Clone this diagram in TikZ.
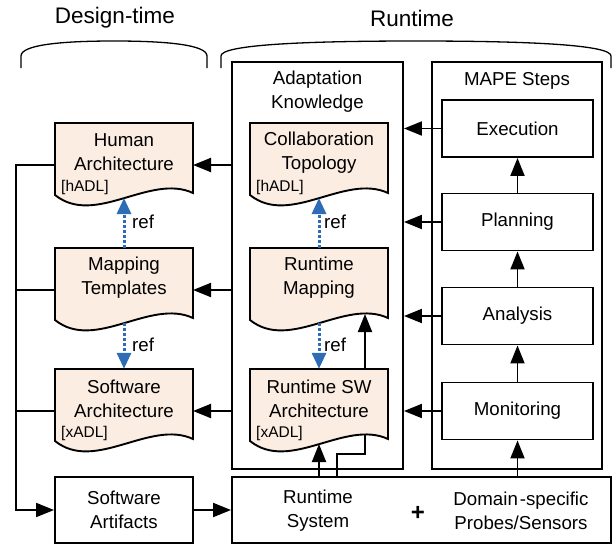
\documentclass[tikz,border=0pt]{standalone}
\usepackage{fontspec}
\setmainfont{Liberation Sans}
\usetikzlibrary{arrows.meta,calc}
\pgfdeclarelayer{bg}
\pgfsetlayers{bg,main}
\definecolor{docfill}{RGB}{252,237,226}
\definecolor{refblue}{RGB}{46,108,182}
\tikzset{
  every node/.style={font=\fontsize{18.7}{24}\selectfont},
  box/.style={draw, line width=1.9pt, inner sep=0pt, align=center},
  ln/.style={line width=1.9pt, line join=miter},
  arr/.style={ln, -{Triangle[length=18pt,width=14pt]}},
  refarr/.style={line width=3pt, refblue, dash pattern=on 3pt off 2pt, -{Triangle[length=16pt,width=14pt]}},
  docpath/.style={draw, fill=docfill, line width=1.9pt, line join=miter},
  docbox/.style={inner sep=0pt, minimum width=138pt, minimum height=71pt},
  doctext/.style={align=center, inner sep=0pt},
  tag/.style={font=\fontsize{15.5}{18}\selectfont, anchor=base west, inner sep=0pt},
  head/.style={font=\fontsize{22.5}{26}\selectfont},
  brace/.style={line width=1.3pt},
}
\newcommand\docnode[4]{%
  \path[docpath] (#2,#3+72) -- (#2,#3) -- (#2+138,#3) -- (#2+138,#3+70)
    .. controls (#2+95,#3+50) and (#2+40,#3+104) .. (#2,#3+72) -- cycle;
  \node[docbox] (#1) at (#2+69,#3+35.5) {};
  \node[doctext] (#1-t) at (#2+69,#3+29.5) {#4};
  \coordinate (#1-w) at (#2+69,#3+75);
  \coordinate (#1-r) at (#2+115,#3+66);
  \coordinate (#1-l) at (#2,#3+42);
  \coordinate (#1-e) at (#2+138,#3+42);
}
\begin{document}
\begin{tikzpicture}[x=1pt,y=-1pt]
\useasboundingbox (0,0) rectangle (613,549);

% headings and braces
\node[head] (hdt) at (115,18) {Design-time};
\node[head] (hrt) at (412,18) {Runtime};
\draw[brace] (21,68) -- (21,56) .. controls (21,45) and (60,41) .. (114,41)
  .. controls (168,41) and (207,45) .. (207,56) -- (207,68);
\draw[brace] (221,68) -- (221,56) .. controls (221,45) and (300,41) .. (416,41)
  .. controls (532,41) and (611,45) .. (611,56) -- (611,68);

% containers
\node[box, minimum width=171pt, minimum height=407pt] (ak) at (317.5,265.5) {};
\node (akt) at (317.5,92) [align=center] {Adaptation\\Knowledge};
\node[box, minimum width=170pt, minimum height=407pt] (mape) at (517,265.5) {};
\node (mapet) at (517,81) {MAPE Steps};

% MAPE steps
\node[box, minimum width=151pt, minimum height=57pt] (ex) at (517.5,128.5) {Execution};
\node[box, minimum width=151pt, minimum height=57pt] (pl) at (517.5,222) {Planning};
\node[box, minimum width=151pt, minimum height=57pt] (an) at (517.5,316) {Analysis};
\node[box, minimum width=151pt, minimum height=57pt] (mo) at (517.5,411) {Monitoring};

% bottom boxes
\node[box, minimum width=138pt, minimum height=66pt] (sw) at (124,510) {Software\\Artifacts};
\node[box, minimum width=379pt, minimum height=66pt] (rsys) at (421.5,510) {};
\node[align=center] (rst) at (318,511) {Runtime\\System};
\node[font=\fontsize{24}{24}\selectfont\bfseries] (plus) at (418,513) {+};
\node[align=center] (dst) at (521,511) {Domain\kern2pt-specific\\Probes/Sensors};

% documents
\docnode{ha}{55}{123}{Human\\Architecture}
\docnode{mt}{55}{248}{Mapping\\Templates}
\docnode{sa}{55}{369}{Software\\Architecture}
\docnode{ct}{250}{123}{Collaboration\\Topology}
\docnode{rm}{250}{248}{Runtime\\Mapping}
\docnode{rs}{250}{369}{Runtime SW\\Architecture}
\node[tag] (hatag) at (61,191) {[hADL]};
\node[tag] (satag) at (61,437) {[xADL]};
\node[tag] (cttag) at (256,191) {[hADL]};
\node[tag] (rstag) at (256,437) {[xADL]};

% MAPE internal arrows
\draw[arr] (mo.north) -- (an.south);
\draw[arr] (an.north) -- (pl.south);
\draw[arr] (pl.north) -- (ex.south);
\draw[arr] (rsys.north -| mo.south) -- (mo.south);
\foreach \s in {ex,pl,an,mo} \draw[arr] (\s.west) -- (\s.west -| ak.east);

% knowledge to design-time
\foreach \d in {ha,mt,sa} \draw[arr] (ak.west |- \d-e) -- (\d-e);

% left spine
\coordinate (spine) at (16,165);
\draw[arr] (ha-l) -- (spine) -- (spine |- sw.west) -- (sw.west);
\draw[ln] (mt-l) -- (mt-l -| spine);
\draw[ln] (sa-l) -- (sa-l -| spine);
\draw[arr] (sw.east) -- (rsys.west);

% runtime system to knowledge
\draw[arr] (rsys.north -| rs-w) -- (rs-w);
\coordinate (kink) at (337,454);
\begin{pgfonlayer}{bg}
\draw[arr] (kink |- rsys.north) -- (kink) -- (kink -| rm-r) -- (rm-r);
\end{pgfonlayer}

% refs
\draw[refarr] (mt.north) -- (ha-w);
\draw[refarr] (mt-w) -- (sa.north);
\draw[refarr] (rm.north) -- (ct-w);
\draw[refarr] (rm-w) -- (rs.north);
\node[anchor=west, inner sep=0pt] (ref1) at (132,222) {ref};
\node[anchor=west, inner sep=0pt] (ref2) at (132,345) {ref};
\node[anchor=west, inner sep=0pt] (ref3) at (324,222) {ref};
\node[anchor=west, inner sep=0pt] (ref4) at (324,345) {ref};
\end{tikzpicture}
\end{document}
